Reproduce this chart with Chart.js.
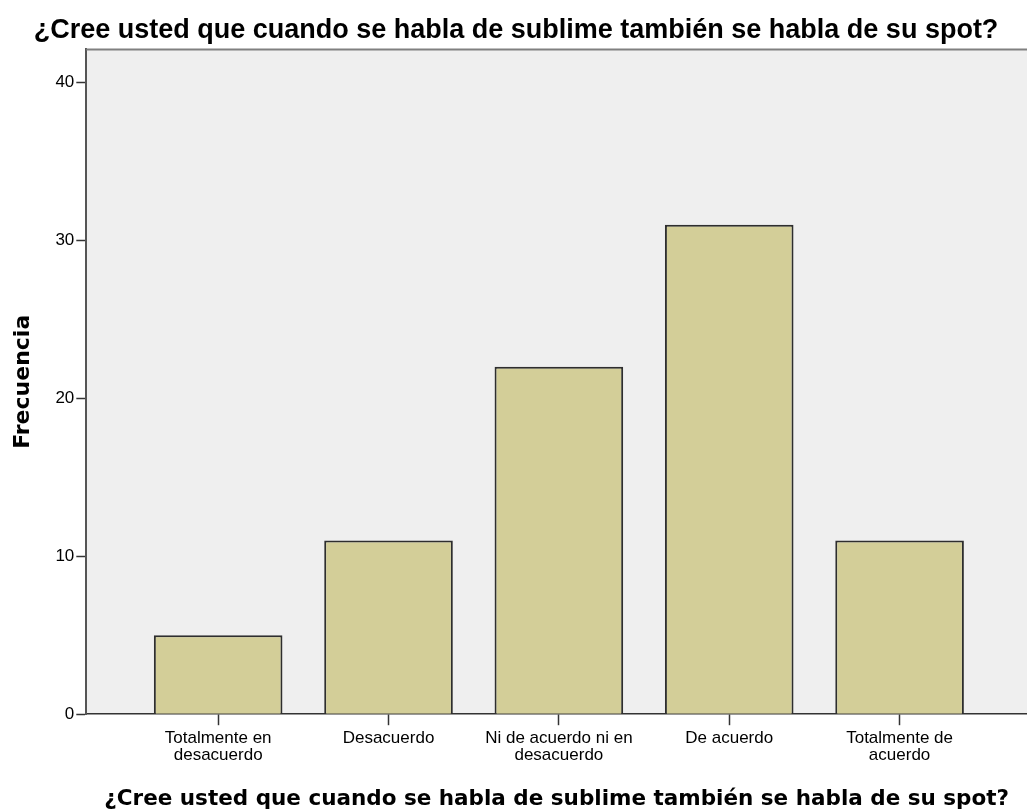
<!DOCTYPE html>
<html>
<head>
<meta charset="utf-8">
<script src="https://cdn.jsdelivr.net/npm/chart.js@4.4.1/dist/chart.umd.min.js"></script>
<style>
  html, body { margin: 0; padding: 0; background: #ffffff; }
  #wrap { width: 1027px; height: 812px; position: relative; }
</style>
</head>
<body>
<div id="wrap"><canvas id="c"></canvas></div>
<script>
const chartTitle = "¿Cree usted que cuando se habla de sublime también se habla de su spot?";
const xAxisTitle = "¿Cree usted que cuando se habla de sublime también se habla de su spot?";
const yAxisTitle = "Frecuencia";
const categories = [
  ["Totalmente en", "desacuerdo"],
  ["Desacuerdo"],
  ["Ni de acuerdo ni en", "desacuerdo"],
  ["De acuerdo"],
  ["Totalmente de", "acuerdo"]
];
const positions = [1, 2, 3, 4, 5];
const frequencies = [5, 11, 22, 31, 11];
const yTicks = [0, 10, 20, 30, 40];

const plotBackground = {
  id: 'plotBackground',
  beforeDraw(chart) {
    const {ctx, chartArea: a} = chart;
    ctx.save();
    ctx.fillStyle = '#efefef';
    ctx.fillRect(a.left, a.top, a.right - a.left, a.bottom - a.top);
    ctx.restore();
  },
  afterDraw(chart) {
    const {ctx, chartArea: a} = chart;
    ctx.save();
    ctx.strokeStyle = '#808080';
    ctx.lineWidth = 2;
    ctx.beginPath();
    ctx.moveTo(a.left, a.top);
    ctx.lineTo(a.right, a.top);
    ctx.stroke();
    ctx.restore();
  }
};

new Chart(document.getElementById('c'), {
  type: 'bar',
  data: {
    datasets: [{
      data: positions.map((p, i) => ({x: p, y: frequencies[i]})),
      backgroundColor: '#d3ce98',
      borderColor: '#2e2e2e',
      borderWidth: 2,
      barPercentage: 0.755,
      categoryPercentage: 1.0
    }]
  },
  options: {
    responsive: true,
    maintainAspectRatio: false,
    animation: false,
    devicePixelRatio: 1,
    layout: { padding: { left: 5, right: 0, top: 0, bottom: 0 } },
    plugins: {
      legend: { display: false },
      tooltip: { enabled: false },
      title: {
        display: true,
        text: chartTitle,
        color: '#000',
        font: { family: 'Liberation Sans', size: 27, weight: 'bold' },
        padding: { top: 14, bottom: 3 }
      }
    },
    scales: {
      x: {
        type: 'linear',
        offset: false,
        min: 0.226,
        max: 5.748,
        z: 1,
        afterBuildTicks(scale) { scale.ticks = positions.map(v => ({value: v})); },
        ticks: {
          autoSkip: false,
          maxRotation: 0,
          color: '#000',
          padding: 5,
          font: { family: 'Liberation Sans', size: 17, lineHeight: 1.0 },
          callback(v) { const i = positions.indexOf(v); return i >= 0 ? categories[i] : ''; }
        },
        grid: { offset: false, drawOnChartArea: false, drawTicks: true, tickLength: 11, tickColor: '#333', tickWidth: 1.5 },
        border: { display: true, color: '#333', width: 1.5 },
        title: {
          display: true,
          text: xAxisTitle,
          color: '#000',
          font: { family: 'DejaVu Sans', size: 21.5, weight: 'bold' },
          padding: { top: 17, bottom: 0 }
        }
      },
      y: {
        min: 0,
        max: 42.1,
        z: 1,
        afterBuildTicks(scale) { scale.ticks = yTicks.map(v => ({value: v})); },
        ticks: {
          color: '#000',
          padding: 2,
          font: { family: 'Liberation Sans', size: 17 }
        },
        grid: { drawOnChartArea: false, drawTicks: true, tickLength: 10, tickColor: '#333', tickWidth: 1.5 },
        border: { display: true, color: '#555', width: 2 },
        title: {
          display: true,
          text: yAxisTitle,
          color: '#000',
          font: { family: 'DejaVu Sans', size: 22, weight: 'bold' },
          padding: { top: 5, bottom: 17 }
        }
      }
    }
  },
  plugins: [plotBackground]
});
</script>
</body>
</html>
